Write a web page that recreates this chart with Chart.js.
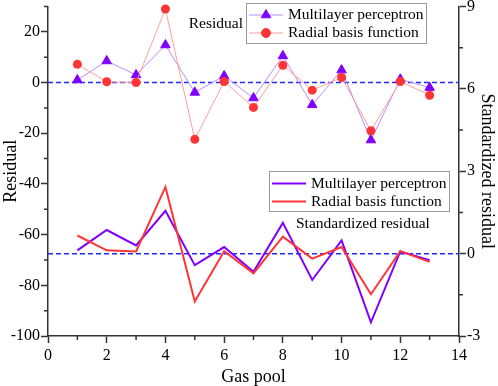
<!DOCTYPE html>
<html>
<head>
<meta charset="utf-8">
<script src="https://cdn.jsdelivr.net/npm/chart.js@4.4.1/dist/chart.umd.min.js"></script>
<style>
  html, body { margin: 0; padding: 0; background: #fff; }
</style>
</head>
<body>
<canvas id="chart" width="498" height="386"></canvas>
<script>
// values
const gasPools = [1, 2, 3, 4, 5, 6, 7, 8, 9, 10, 11, 12, 13];
const residualMLP = [1, 8.5, 3, 14.8, -3.9, 2.6, -6.1, 10.5, -8.8, 4.9, -22.7, 1.3, -2];
const residualRBF = [7.2, 0.3, 0, 29, -22.4, 0.4, -9.8, 6.8, -3, 2, -19, 0.4, -5];
const standardizedMLP = [0.12, 0.86, 0.3, 1.56, -0.42, 0.24, -0.66, 1.12, -0.96, 0.48, -2.5, 0.08, -0.24];
const standardizedRBF = [0.66, 0.12, 0.08, 2.43, -1.74, 0.09, -0.72, 0.62, -0.18, 0.24, -1.48, 0.09, -0.3];
const zeroLineX = [0, 14];

const xTicks = [0, 2, 4, 6, 8, 10, 12, 14];
const xMinor = [1, 3, 5, 7, 9, 11, 13];
const residualTicks = [-100, -80, -60, -40, -20, 0, 20];
const residualMinor = [-90, -70, -50, -30, -10, 10, 30];
const stdTicks = [-3, 0, 3, 6, 9];
const stdMinor = [-1.5, 1.5, 4.5, 7.5];

const AXIS = "#333";
const PURPLE = "#8000ff";
const RED = "#ff3535";
const PALE_PURPLE = "#b88cff";
const PALE_RED = "#ff9e9e";
const DASH_BLUE = "#1f2bff";

Chart.defaults.font.family = "'Liberation Serif', 'Times New Roman', serif";
Chart.defaults.color = "#000";

function toPoints(ys) {
    return gasPools.map((g, i) => ({ x: g, y: ys[i] }));
}

const minorTicks = {
    id: "minorTicks",
    afterDraw(chart) {
        const { ctx, chartArea: a } = chart;
        const { x, y, y1 } = chart.scales;
        ctx.save();
        ctx.strokeStyle = AXIS;
        ctx.lineWidth = 1.5;
        ctx.beginPath();
        xMinor.forEach(v => {
            const p = x.getPixelForValue(v);
            ctx.moveTo(p, a.bottom);
            ctx.lineTo(p, a.bottom + 4);
        });
        residualMinor.forEach(v => {
            const p = y.getPixelForValue(v);
            ctx.moveTo(a.left, p);
            ctx.lineTo(a.left - 4, p);
        });
        stdMinor.forEach(v => {
            const p = y1.getPixelForValue(v);
            ctx.moveTo(a.right, p);
            ctx.lineTo(a.right + 4, p);
        });
        ctx.stroke();
        ctx.restore();
    }
};

function drawLegendBox(ctx, box, rows) {
    ctx.fillStyle = "#fff";
    ctx.fillRect(box.x, box.y, box.w, box.h);
    ctx.strokeStyle = "#999";
    ctx.lineWidth = 1;
    ctx.strokeRect(box.x + 0.5, box.y + 0.5, box.w, box.h);
    rows.forEach(r => {
        ctx.strokeStyle = r.lineColor;
        ctx.lineWidth = r.lineWidth;
        ctx.beginPath();
        ctx.moveTo(box.x + 3, r.y);
        ctx.lineTo(box.x + 37, r.y);
        ctx.stroke();
        if (r.marker) {
            ctx.fillStyle = r.markerColor;
            ctx.strokeStyle = r.markerColor;
            ctx.lineWidth = 1;
            Chart.helpers.drawPoint(ctx, { pointStyle: r.marker, radius: r.radius, rotation: 0, borderWidth: 1 }, box.x + 20, r.y);
        }
        ctx.fillStyle = "#000";
        ctx.font = "15.5px 'Liberation Serif'";
        ctx.textAlign = "left";
        ctx.textBaseline = "middle";
        ctx.fillText(r.text, box.x + 42, r.y);
    });
}

const legends = {
    id: "legends",
    afterDraw(chart) {
        const ctx = chart.ctx;
        ctx.save();
        drawLegendBox(ctx, { x: 246, y: 3, w: 180, h: 40 }, [
            { y: 15, text: "Multilayer perceptron", lineColor: PALE_PURPLE, lineWidth: 1, marker: "triangle", radius: 5.5, markerColor: PURPLE },
            { y: 33, text: "Radial basis function", lineColor: PALE_RED, lineWidth: 1, marker: "circle", radius: 4.5, markerColor: RED }
        ]);
        drawLegendBox(ctx, { x: 269, y: 171, w: 180, h: 40 }, [
            { y: 183.5, text: "Multilayer perceptron", lineColor: PURPLE, lineWidth: 2 },
            { y: 201.5, text: "Radial basis function", lineColor: RED, lineWidth: 2 }
        ]);
        ctx.fillStyle = "#000";
        ctx.font = "15.5px 'Liberation Serif'";
        ctx.textBaseline = "middle";
        ctx.textAlign = "right";
        ctx.fillText("Residual", 243, 24);
        ctx.textAlign = "left";
        ctx.fillText("Standardized residual", 296, 223.5);
        ctx.restore();
    }
};

const tickGrid = {
    drawOnChartArea: false,
    drawTicks: true,
    tickLength: 7,
    tickColor: AXIS,
    tickWidth: 1.5
};

new Chart(document.getElementById("chart"), {
    type: "line",
    data: {
        datasets: [
            {
                data: zeroLineX.map(v => ({ x: v, y: 0 })),
                yAxisID: "y",
                borderColor: DASH_BLUE,
                borderWidth: 1.5,
                borderDash: [5, 3],
                pointRadius: 0,
                order: 10
            },
            {
                data: zeroLineX.map(v => ({ x: v, y: 0 })),
                yAxisID: "y1",
                borderColor: DASH_BLUE,
                borderWidth: 1.5,
                borderDash: [5, 3],
                pointRadius: 0,
                order: 10
            },
            {
                label: "Multilayer perceptron",
                data: toPoints(residualMLP),
                yAxisID: "y",
                borderColor: PALE_PURPLE,
                borderWidth: 1,
                pointStyle: "triangle",
                pointRadius: 5.5,
                pointBackgroundColor: PURPLE,
                pointBorderColor: PURPLE,
                pointBorderWidth: 1,
                clip: false,
                order: 4
            },
            {
                label: "Radial basis function",
                data: toPoints(residualRBF),
                yAxisID: "y",
                borderColor: PALE_RED,
                borderWidth: 1,
                pointStyle: "circle",
                pointRadius: 4.5,
                pointBackgroundColor: RED,
                pointBorderColor: RED,
                pointBorderWidth: 0,
                clip: false,
                order: 3
            },
            {
                label: "Multilayer perceptron",
                data: toPoints(standardizedMLP),
                yAxisID: "y1",
                borderColor: PURPLE,
                borderWidth: 2,
                pointRadius: 0,
                order: 2
            },
            {
                label: "Radial basis function",
                data: toPoints(standardizedRBF),
                yAxisID: "y1",
                borderColor: RED,
                borderWidth: 2,
                pointRadius: 0,
                order: 1
            }
        ]
    },
    options: {
        responsive: false,
        animation: false,
        layout: { padding: { top: 5, left: 0, right: 0, bottom: 0 } },
        plugins: {
            legend: { display: false },
            tooltip: { enabled: false }
        },
        scales: {
            x: {
                type: "linear",
                position: "bottom",
                min: 0,
                max: 14,
                afterBuildTicks: s => { s.ticks = xTicks.map(v => ({ value: v })); },
                afterFit: s => { s.height = 50; s.paddingLeft = 0; s.paddingRight = 0; },
                ticks: { font: { size: 16 }, padding: 3, maxRotation: 0, autoSkip: false },
                grid: tickGrid,
                border: { color: AXIS, width: 1.5 },
                title: { display: true, text: "Gas pool", font: { size: 18, lineHeight: 1 }, padding: 0 }
            },
            y: {
                type: "linear",
                position: "left",
                min: -100,
                max: 30,
                afterBuildTicks: s => { s.ticks = residualTicks.map(v => ({ value: v })); },
                afterFit: s => { s.width = 48; s.paddingTop = 0; s.paddingBottom = 0; },
                ticks: { font: { size: 16 }, padding: 1 },
                grid: tickGrid,
                border: { color: AXIS, width: 1.5 },
                title: { display: true, text: "Residual", font: { size: 18 }, padding: 0 }
            },
            y1: {
                type: "linear",
                position: "right",
                min: -3,
                max: 9,
                afterBuildTicks: s => { s.ticks = stdTicks.map(v => ({ value: v })); },
                afterFit: s => { s.width = 39; s.paddingTop = 0; s.paddingBottom = 0; },
                ticks: { font: { size: 16 }, padding: 1 },
                grid: tickGrid,
                border: { color: AXIS, width: 1.5 },
                title: { display: true, text: "Standardized residual", font: { size: 18 }, padding: 0 }
            }
        }
    },
    plugins: [minorTicks, legends]
});
</script>
</body>
</html>
